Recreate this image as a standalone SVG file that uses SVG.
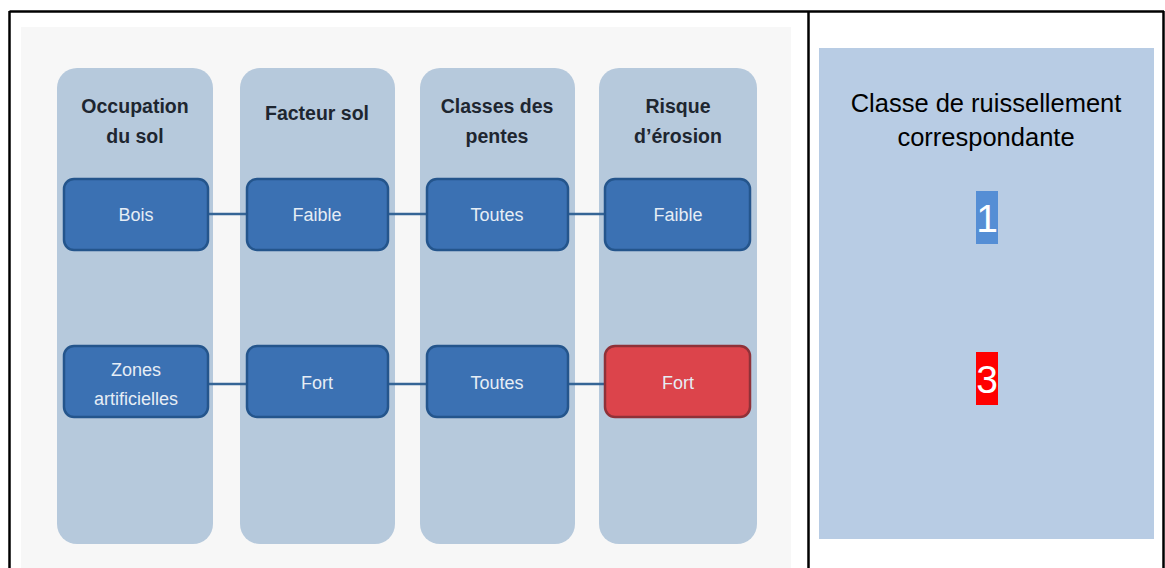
<svg xmlns="http://www.w3.org/2000/svg" width="1165" height="568" viewBox="0 0 1165 568">
<style>
.col{fill:#b6c9dc}
.hdr{font-family:"Liberation Sans",Arial,sans-serif;font-size:19.5px;font-weight:bold;fill:#1e2630;text-anchor:middle}
.nb{fill:#3b71b3;stroke:#24558c;stroke-width:2.5}
.nr{fill:#dc444b;stroke:#8f3138;stroke-width:2.5}
.nt{font-family:"Liberation Sans",Arial,sans-serif;font-size:18px;fill:#e6edf5;text-anchor:middle}
.con{stroke:#356596;stroke-width:2.5;fill:none}
.rt{font-family:"Liberation Sans",Arial,sans-serif;font-size:25.5px;fill:#000;text-anchor:middle}
.dg{font-family:"Liberation Sans",Arial,sans-serif;font-size:39px;fill:#fff;text-anchor:middle}
</style>
<rect width="1165" height="568" fill="#fff"/>
<rect x="21" y="27" width="770" height="541" fill="#f7f7f7"/>
<g id="columns">
<rect class="col" x="57" y="68" width="156" height="476" rx="20"/>
<rect class="col" x="240" y="68" width="155" height="476" rx="20"/>
<rect class="col" x="420" y="68" width="155" height="476" rx="20"/>
<rect class="col" x="599" y="68" width="158" height="476" rx="20"/>
</g>
<g id="headers">
<text class="hdr" x="135" y="113">Occupation</text>
<text class="hdr" x="135" y="143">du sol</text>
<text class="hdr" x="317" y="120">Facteur sol</text>
<text class="hdr" x="497" y="113">Classes des</text>
<text class="hdr" x="497" y="143">pentes</text>
<text class="hdr" x="678" y="113">Risque</text>
<text class="hdr" x="678" y="143">d’érosion</text>
</g>
<g id="connectors">
<line class="con" x1="208" y1="214" x2="247" y2="214"/>
<line class="con" x1="388" y1="214" x2="427" y2="214"/>
<line class="con" x1="568" y1="214" x2="605" y2="214"/>
<line class="con" x1="208" y1="384" x2="247" y2="384"/>
<line class="con" x1="388" y1="384" x2="427" y2="384"/>
<line class="con" x1="568" y1="384" x2="605" y2="384"/>
</g>
<g id="n-bois"><rect class="nb" x="64" y="179" width="144" height="71" rx="10"/><text class="nt" x="136" y="221">Bois</text></g>
<g id="n-faible1"><rect class="nb" x="247" y="179" width="141" height="71" rx="10"/><text class="nt" x="317" y="221">Faible</text></g>
<g id="n-toutes1"><rect class="nb" x="427" y="179" width="141" height="71" rx="10"/><text class="nt" x="497" y="221">Toutes</text></g>
<g id="n-faible2"><rect class="nb" x="605" y="179" width="145" height="71" rx="10"/><text class="nt" x="678" y="221">Faible</text></g>
<g id="n-zones"><rect class="nb" x="64" y="346" width="144" height="71" rx="10"/><text class="nt" x="136" y="376">Zones</text><text class="nt" x="136" y="405">artificielles</text></g>
<g id="n-fort1"><rect class="nb" x="247" y="346" width="141" height="71" rx="10"/><text class="nt" x="317" y="389">Fort</text></g>
<g id="n-toutes2"><rect class="nb" x="427" y="346" width="141" height="71" rx="10"/><text class="nt" x="497" y="389">Toutes</text></g>
<g id="n-fort2"><rect class="nr" x="605" y="346" width="145" height="71" rx="10"/><text class="nt" x="678" y="389">Fort</text></g>
<g id="right-panel">
<rect x="819" y="48" width="335" height="491" fill="#b8cce4"/>
<text class="rt" x="986" y="112">Classe de ruissellement</text>
<text class="rt" x="986" y="146">correspondante</text>
<rect x="976" y="191" width="22" height="53" fill="#558ed5"/>
<text class="dg" x="987" y="232">1</text>
<rect x="976" y="352" width="22" height="53" fill="#ff0000"/>
<text class="dg" x="987" y="393">3</text>
</g>
<g id="table-lines" stroke="#000" stroke-width="2.5" fill="none">
<line x1="9.5" y1="11.5" x2="1164" y2="11.5"/>
<line x1="9.5" y1="11" x2="9.5" y2="568"/>
<line x1="808.5" y1="11" x2="808.5" y2="568"/>
<line x1="1163.5" y1="11" x2="1163.5" y2="568"/>
</g>
</svg>
